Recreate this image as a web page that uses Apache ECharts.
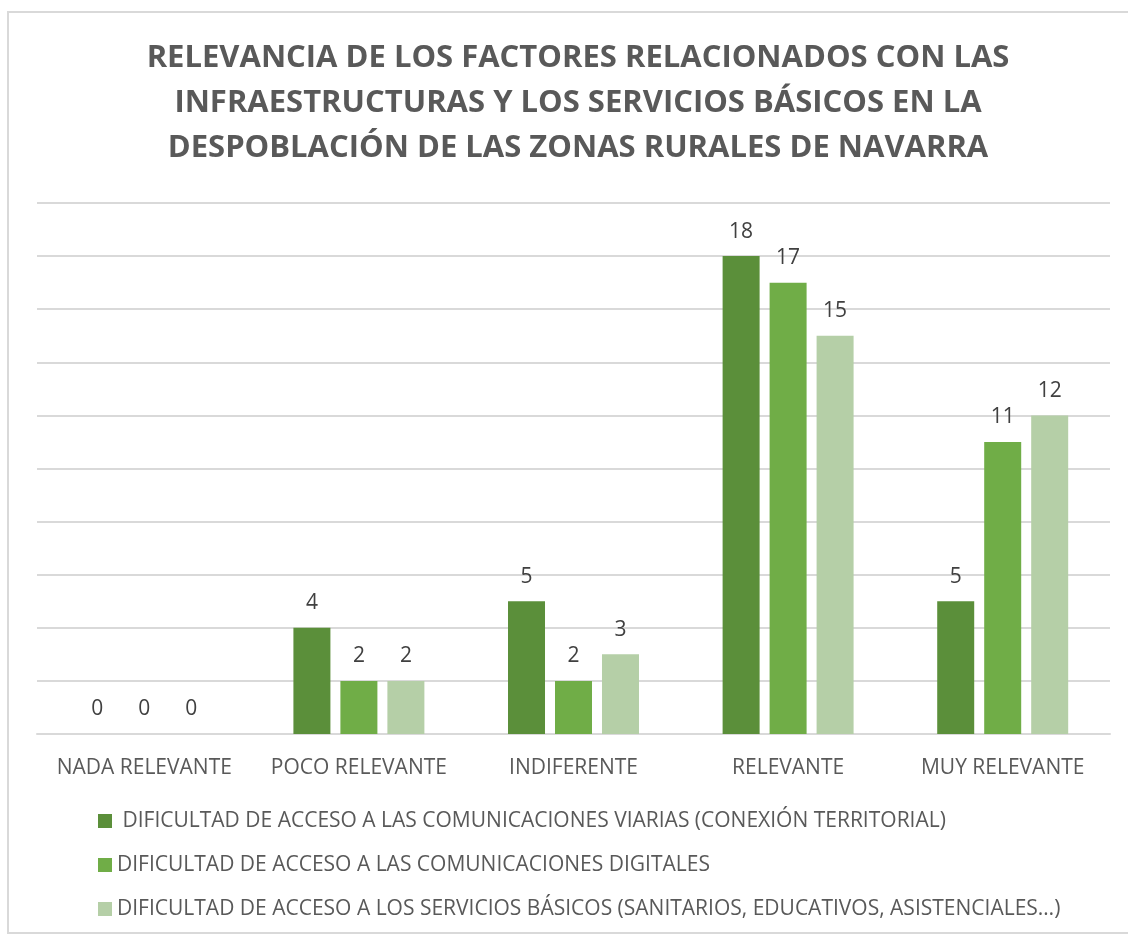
<!DOCTYPE html>
<html>
<head>
<meta charset="utf-8">
<script src="https://cdn.jsdelivr.net/npm/echarts@6/dist/echarts.min.js"></script>
<style>
  html, body { margin: 0; padding: 0; background: #fff; }
  #chart { width: 1128px; height: 935px; }
</style>
</head>
<body>
<div id="chart"></div>
<script>
  // data
  const categories = ['NADA RELEVANTE', 'POCO RELEVANTE', 'INDIFERENTE', 'RELEVANTE', 'MUY RELEVANTE'];
  const seriesNames = [
    ' DIFICULTAD DE ACCESO A LAS COMUNICACIONES VIARIAS (CONEXIÓN TERRITORIAL)',
    'DIFICULTAD DE ACCESO A LAS COMUNICACIONES DIGITALES',
    'DIFICULTAD DE ACCESO A LOS SERVICIOS BÁSICOS (SANITARIOS, EDUCATIVOS, ASISTENCIALES…)'
  ];
  const viarias = [0, 4, 5, 18, 5];
  const digitales = [0, 2, 2, 17, 11];
  const basicos = [0, 2, 3, 15, 12];
  const colors = ['#5b8f3a', '#70ad47', '#b5cfa7'];

  const font = '"Open Sans", "Noto Sans", sans-serif';
  const chart = echarts.init(document.getElementById('chart'));

  const makeSeries = (name, data, color) => ({
    name,
    type: 'bar',
    data,
    barWidth: 37,
    barGap: '27%',
    itemStyle: { color },
    label: {
      show: true,
      position: 'top',
      distance: 14,
      color: '#404040',
      fontFamily: font,
      fontSize: 21
    }
  });

  chart.setOption({
    animation: false,
    color: colors,
    title: {
      text: 'RELEVANCIA DE LOS FACTORES RELACIONADOS CON LAS\nINFRAESTRUCTURAS Y LOS SERVICIOS BÁSICOS EN LA\nDESPOBLACIÓN DE LAS ZONAS RURALES DE NAVARRA',
      left: 573,
      top: 31,
      textAlign: 'center',
      textStyle: {
        color: '#595959',
        fontFamily: font,
        fontWeight: 'bold',
        fontSize: 31,
        lineHeight: 45
      }
    },
    graphic: [{
      type: 'rect',
      shape: { x: 8, y: 12, width: 1140, height: 921 },
      style: { fill: 'none', stroke: '#d9d9d9', lineWidth: 2 },
      silent: true
    }],
    legend: {
      orient: 'vertical',
      left: 98,
      top: 810,
      padding: 0,
      itemWidth: 14,
      itemHeight: 14,
      itemGap: 22,
      itemTextGap: 6,
      icon: 'rect',
      textStyle: {
        color: '#595959',
        fontFamily: font,
        fontSize: 21,
        lineHeight: 22
      },
      data: seriesNames
    },
    grid: { left: 37, right: 18, top: 203, bottom: 201 },
    xAxis: {
      type: 'category',
      data: categories,
      axisLine: { lineStyle: { color: '#d9d9d9', width: 2 } },
      axisTick: { show: false },
      axisLabel: {
        interval: 0,
        color: '#595959',
        fontFamily: font,
        fontSize: 21,
        margin: 24
      }
    },
    yAxis: {
      type: 'value',
      min: 0,
      max: 20,
      interval: 2,
      axisLabel: { show: false },
      axisLine: { show: false },
      axisTick: { show: false },
      splitLine: { lineStyle: { color: '#d9d9d9', width: 2 } }
    },
    series: [
      makeSeries(seriesNames[0], viarias, colors[0]),
      makeSeries(seriesNames[1], digitales, colors[1]),
      makeSeries(seriesNames[2], basicos, colors[2])
    ]
  });
</script>
</body>
</html>
